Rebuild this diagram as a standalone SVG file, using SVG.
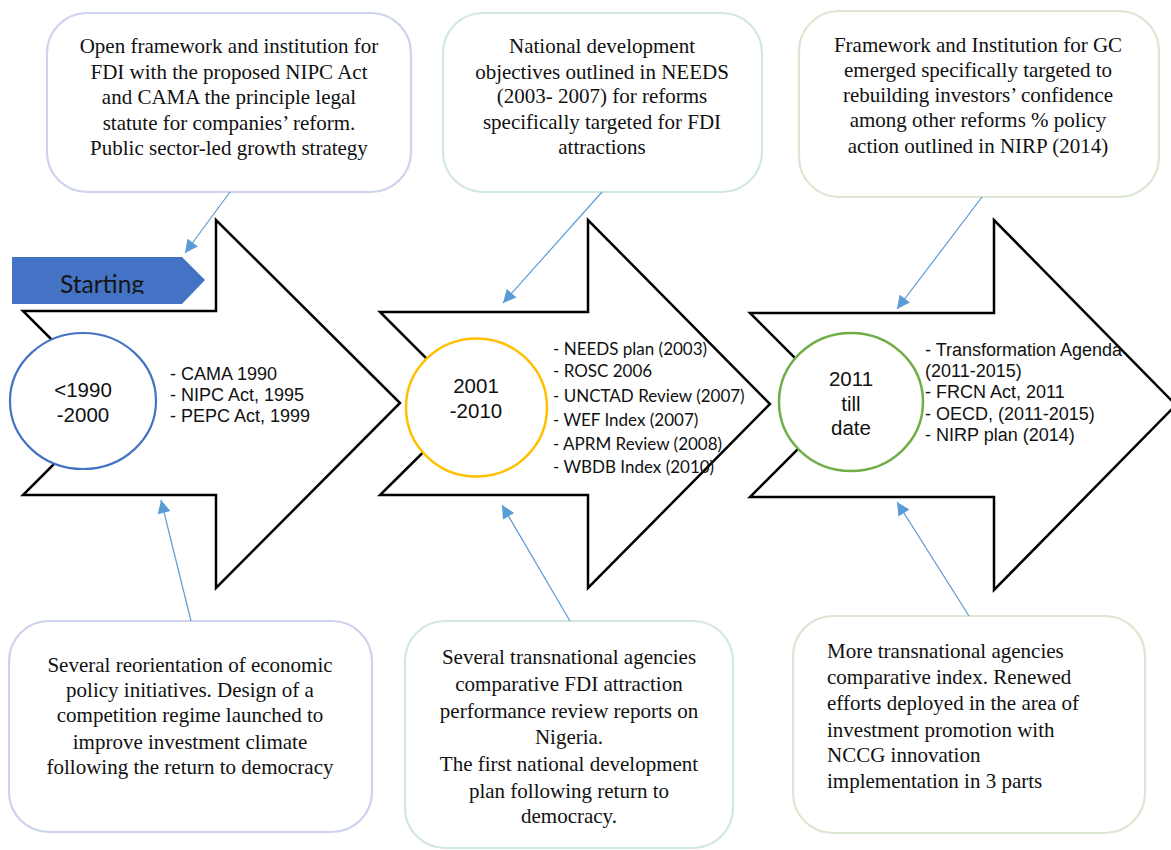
<svg xmlns="http://www.w3.org/2000/svg" width="1171" height="850" viewBox="0 0 1171 850">
  <style>
    .arrow { fill: #FFFFFF; stroke: #000000; stroke-width: 2.5; stroke-linejoin: miter; }
    .box { fill: #FFFFFF; stroke-width: 2.2; }
    .b-lav { stroke: #CDD3EC; }
    .b-teal { stroke: #D3E7E1; }
    .b-green { stroke: #DBE7D2; }
    .serif { font-family: "Liberation Serif", "Times New Roman", serif; font-size: 21px; fill: #111111; }
    .sans { font-family: "Liberation Sans", Arial, sans-serif; font-size: 18px; fill: #111111; }
    .era { font-family: "Liberation Sans", Arial, sans-serif; font-size: 20.5px; fill: #111111; text-anchor: middle; }
    .cal { font-family: Lato, "Open Sans", sans-serif; font-size: 17px; fill: #111111; }
    .conn { stroke: #5B9BD5; stroke-width: 1.2; fill: none; marker-end: url(#tri); }
    .mid { text-anchor: middle; }
  </style>
  <defs>
    <marker id="tri" viewBox="0 0 10 10" refX="10" refY="5" markerWidth="15" markerHeight="13" markerUnits="userSpaceOnUse" orient="auto">
      <path d="M0,0 L10,5 L0,10 z" fill="#5B9BD5"/>
    </marker>
    <clipPath id="startClip">
      <rect x="12" y="257" width="200" height="37"/>
    </clipPath>
  </defs>

  <rect width="1171" height="850" fill="#FFFFFF"/>

  <!-- timeline arrows -->
  <g id="arrow-1990">
    <polygon class="arrow" points="23,311 216,311 216,220 400,403 216,588 216,495 23,495 115,403"/>
  </g>
  <g id="arrow-2001">
    <polygon class="arrow" points="380,312 588,312 588,220 770,404 588,588 588,495 380,495 472,404"/>
  </g>
  <g id="arrow-2011">
    <polygon class="arrow" points="750,313 994,313 994,220 1176,405 994,590 994,497 750,497 842,405"/>
  </g>

  <!-- start banner -->
  <g id="starting">
    <polygon points="12,257 182,257 205,280 182,304 12,304" fill="#4472C4"/>
    <text x="60" y="293" font-family="Lato, 'Open Sans', sans-serif" font-size="24.5" fill="#151515" clip-path="url(#startClip)">Starting</text>
  </g>

  <!-- era circles -->
  <g id="era-1990">
    <ellipse cx="83" cy="401" rx="73" ry="68" fill="#FFFFFF" stroke="#4472C4" stroke-width="2.2"/>
    <text class="era" x="83" y="397">&lt;1990</text>
    <text class="era" x="83" y="422">-2000</text>
  </g>
  <g id="era-2001">
    <ellipse cx="476.5" cy="407.5" rx="70.5" ry="69" fill="#FFFFFF" stroke="#FFC000" stroke-width="2.5"/>
    <text class="era" x="476" y="393">2001</text>
    <text class="era" x="476" y="418">-2010</text>
  </g>
  <g id="era-2011">
    <ellipse cx="851" cy="402" rx="72" ry="69" fill="#FFFFFF" stroke="#70AD47" stroke-width="2.5"/>
    <text class="era" x="851" y="386">2011</text>
    <text class="era" x="851" y="411">till</text>
    <text class="era" x="851" y="435">date</text>
  </g>

  <!-- milestones inside each arrow -->
  <g id="items-1990" class="sans">
    <text x="170" y="380">- CAMA 1990</text>
    <text x="170" y="401">- NIPC Act, 1995</text>
    <text x="170" y="422">- PEPC Act, 1999</text>
  </g>
  <g id="items-2001" class="cal">
    <text x="553" y="355">- NEEDS plan (2003)</text>
    <text x="553" y="377">- ROSC 2006</text>
    <text x="553" y="402">- UNCTAD Review (2007)</text>
    <text x="553" y="426">- WEF Index (2007)</text>
    <text x="553" y="450">- APRM Review (2008)</text>
    <text x="553" y="473">- WBDB Index (2010)</text>
  </g>
  <g id="items-2011" class="sans">
    <text x="925" y="356">- Transformation Agenda</text>
    <text x="925" y="377">(2011-2015)</text>
    <text x="925" y="398">- FRCN Act, 2011</text>
    <text x="925" y="420">- OECD, (2011-2015)</text>
    <text x="925" y="441">- NIRP plan (2014)</text>
  </g>

  <!-- upper notes -->
  <g id="note-top-1">
    <rect class="box b-lav" x="47" y="13" width="364" height="179" rx="40"/>
    <g class="serif mid">
      <text x="229" y="53">Open framework and institution for</text>
      <text x="229" y="79">FDI with the proposed NIPC Act</text>
      <text x="229" y="104">and CAMA the principle legal</text>
      <text x="229" y="130">statute for companies’ reform.</text>
      <text x="229" y="155">Public sector-led growth strategy</text>
    </g>
  </g>
  <g id="note-top-2">
    <rect class="box b-teal" x="443" y="13" width="319" height="179" rx="40"/>
    <g class="serif mid">
      <text x="602" y="53">National development</text>
      <text x="602" y="79">objectives outlined in NEEDS</text>
      <text x="602" y="103">(2003- 2007) for reforms</text>
      <text x="602" y="129">specifically targeted for FDI</text>
      <text x="602" y="154">attractions</text>
    </g>
  </g>
  <g id="note-top-3">
    <rect class="box b-green" x="799" y="11" width="360" height="186" rx="40"/>
    <g class="serif mid">
      <text x="978" y="52">Framework and Institution for GC</text>
      <text x="978" y="77">emerged specifically targeted to</text>
      <text x="978" y="102">rebuilding investors’ confidence</text>
      <text x="978" y="127">among other reforms % policy</text>
      <text x="978" y="153">action outlined in NIRP (2014)</text>
    </g>
  </g>

  <!-- lower notes -->
  <g id="note-bottom-1">
    <rect class="box b-lav" x="9" y="621" width="363" height="211" rx="40"/>
    <g class="serif mid">
      <text x="190" y="672">Several reorientation of economic</text>
      <text x="190" y="697">policy initiatives. Design of a</text>
      <text x="190" y="722">competition regime launched to</text>
      <text x="190" y="749">improve investment climate</text>
      <text x="190" y="774">following the return to democracy</text>
    </g>
  </g>
  <g id="note-bottom-2">
    <rect class="box b-teal" x="405" y="621" width="328" height="227" rx="40"/>
    <g class="serif mid">
      <text x="569" y="664">Several transnational agencies</text>
      <text x="569" y="691">comparative FDI attraction</text>
      <text x="569" y="718">performance review reports on</text>
      <text x="569" y="744">Nigeria.</text>
      <text x="569" y="771">The first national development</text>
      <text x="569" y="798">plan following return to</text>
      <text x="569" y="823">democracy.</text>
    </g>
  </g>
  <g id="note-bottom-3">
    <rect class="box b-green" x="793" y="616" width="352" height="217" rx="40"/>
    <g class="serif">
      <text x="827" y="658">More transnational agencies</text>
      <text x="827" y="684">comparative index. Renewed</text>
      <text x="827" y="710">efforts deployed in the area of</text>
      <text x="827" y="737">investment promotion with</text>
      <text x="827" y="762">NCCG innovation</text>
      <text x="827" y="788">implementation in 3 parts</text>
    </g>
  </g>

  <!-- connectors from notes to arrows -->
  <g id="connectors">
    <line class="conn" x1="230" y1="192" x2="185" y2="253"/>
    <line class="conn" x1="602" y1="192" x2="503" y2="303"/>
    <line class="conn" x1="982" y1="197" x2="897" y2="309"/>
    <line class="conn" x1="191" y1="621" x2="161" y2="500"/>
    <line class="conn" x1="570" y1="621" x2="502" y2="505"/>
    <line class="conn" x1="969" y1="616" x2="897" y2="502"/>
  </g>
</svg>
